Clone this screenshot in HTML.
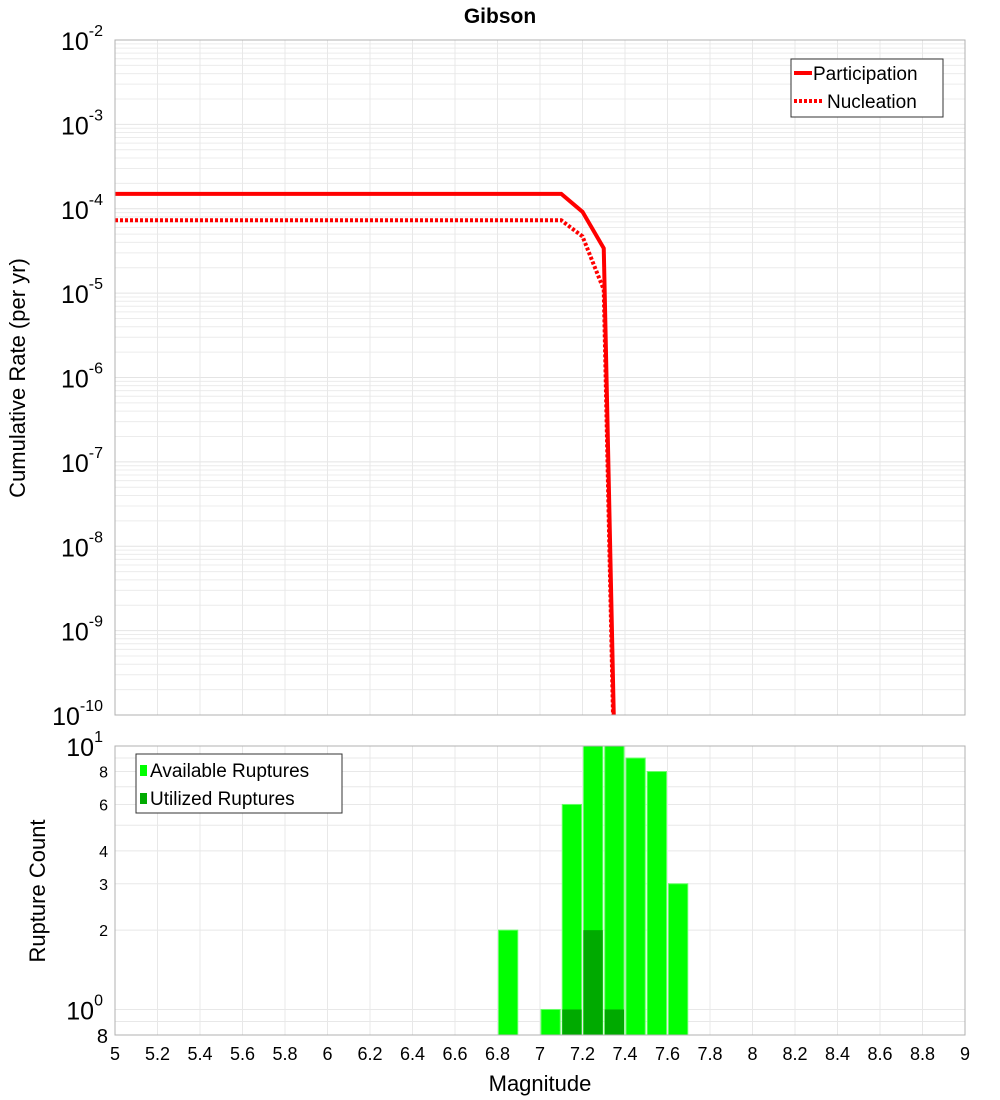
<!DOCTYPE html>
<html><head><meta charset="utf-8"><style>
body{margin:0;background:#fff;}
svg{font-family:"Liberation Sans","DejaVu Sans",sans-serif;display:block}
</style></head><body>
<svg id="c" width="1000" height="1100" xmlns="http://www.w3.org/2000/svg">
<text x="500" y="23" text-anchor="middle" font-size="21" font-weight="bold">Gibson</text>
<g id="top"></g>
<g id="bot"></g>
<text transform="translate(25,378) rotate(-90)" text-anchor="middle" font-size="22">Cumulative Rate (per yr)</text>
<text transform="translate(45,891) rotate(-90)" text-anchor="middle" font-size="22">Rupture Count</text>
<text x="540" y="1091" text-anchor="middle" font-size="22">Magnitude</text>
</svg>
<script>
const partMags=[5,7.1,7.2,7.3,7.4];
const partRates=[1.5e-4,1.5e-4,9.2e-5,3.4e-5,6e-17];
const nuclMags=[5,7.1,7.2,7.3,7.4];
const nuclRates=[7.3e-5,7.3e-5,4.7e-5,1.1e-5,3e-17];
const binStarts=[6.8,7.0,7.1,7.2,7.3,7.4,7.5,7.6];
const availCounts=[2,1,6,10,10,9,8,3];
const utilStarts=[7.1,7.2,7.3];
const utilCounts=[1,2,1];
const xTicks=[5,5.2,5.4,5.6,5.8,6,6.2,6.4,6.6,6.8,7,7.2,7.4,7.6,7.8,8,8.2,8.4,8.6,8.8,9];
const xTickLabels=["5","5.2","5.4","5.6","5.8","6","6.2","6.4","6.6","6.8","7","7.2","7.4","7.6","7.8","8","8.2","8.4","8.6","8.8","9"];
const topExps=[-2,-3,-4,-5,-6,-7,-8,-9,-10];
const botMinor=[2,3,4,6,8];

const NS="http://www.w3.org/2000/svg";
const L=115,R=965,TT=40,TB=715,BT=746,BB=1035;
const X=m=>L+(m-5)/4*(R-L);
const YT=v=>TT+(-2-Math.log10(v))/8*(TB-TT);
const lmin=Math.log10(0.8);
const YB=v=>BB-(Math.log10(v)-lmin)/(1-lmin)*(BB-BT);
function mk(p,t,a){const e=document.createElementNS(NS,t);for(const k in a)e.setAttribute(k,a[k]);p.appendChild(e);return e;}
const topG=document.getElementById('top'),botG=document.getElementById('bot');

for(let d=-10;d<-2;d++)for(let k=1;k<10;k++){const y=YT(k*Math.pow(10,d));
 const g=mk(topG,'line',{x1:L,x2:R,y1:y,y2:y,stroke:k==1?'#e4e4e4':'#ececec','stroke-width':1});
 
 }
xTicks.forEach(m=>{const g=mk(topG,'line',{x1:X(m),x2:X(m),y1:TT,y2:TB,stroke:'#e8e8e8'});
 
 
 const h=mk(botG,'line',{x1:X(m),x2:X(m),y1:BT,y2:BB,stroke:'#e8e8e8'});
 
 });
topExps.forEach(e=>{const y=YT(Math.pow(10,e));
 const t=mk(topG,'text',{x:L-12,y:y+10,'text-anchor':'end','font-size':25});
 
 
 t.innerHTML='10<tspan font-size="16" dy="-14">'+e+'</tspan>';});
const defs=mk(document.getElementById('c'),'defs',{});
const cp=mk(defs,'clipPath',{id:'clipT'});mk(cp,'rect',{x:L,y:TT,width:R-L,height:TB-TT});
function line(ms,vs,dash,name){let d='';ms.forEach((m,i)=>{d+=(i?'L':'M')+X(m)+','+YT(vs[i]);});
 const p=mk(topG,'path',{d:d,fill:'none',stroke:'#ff0000','stroke-width':4,'clip-path':'url(#clipT)'});
 if(dash)p.setAttribute('stroke-dasharray','3,2');
 
 }
line(partMags,partRates,false,'participation-line');
line(nuclMags,nuclRates,true,'nucleation-line');
let f=mk(topG,'rect',{x:L,y:TT,width:R-L,height:TB-TT,fill:'none',stroke:'#b0b0b0'});


const lg=mk(topG,'g',{});


mk(lg,'rect',{x:791,y:59,width:152,height:58,fill:'#fff',stroke:'#333'});
mk(lg,'line',{x1:794,x2:812,y1:73,y2:73,stroke:'#f00','stroke-width':4});
mk(lg,'line',{x1:794,x2:822,y1:101,y2:101,stroke:'#f00','stroke-width':4,'stroke-dasharray':'3,2'});
let t=mk(lg,'text',{x:813,y:80,'font-size':19});t.textContent='Participation';


t=mk(lg,'text',{x:827,y:108,'font-size':19});t.textContent='Nucleation';



[0.8,0.9,1,2,3,4,5,6,7,8,9].forEach(v=>{const y=YB(v);
 const g=mk(botG,'line',{x1:L,x2:R,y1:y,y2:y,stroke:'#e8e8e8'});
 
 });
const bw=(X(5.1)-X(5));
binStarts.forEach((m,i)=>{const y=YB(availCounts[i]);
 const b=mk(botG,'rect',{x:X(m)+1,y:y,width:bw-2,height:BB-y,fill:'#00ff00',stroke:'#66ff66','stroke-width':1});
 
 });
utilStarts.forEach((m,i)=>{const y=YB(utilCounts[i]);
 const b=mk(botG,'rect',{x:X(m)+1,y:y,width:bw-2,height:BB-y,fill:'#00aa00'});
 
 });
f=mk(botG,'rect',{x:L,y:BT,width:R-L,height:BB-BT,fill:'none',stroke:'#b0b0b0'});


[[10,'1'],[1,'0']].forEach(([v,e])=>{const y=YB(v);
 const tt=mk(botG,'text',{x:L-12,y:y+10,'text-anchor':'end','font-size':25});
 
 
 tt.innerHTML='10<tspan font-size="16" dy="-14">'+e+'</tspan>';});
botMinor.forEach(v=>{const tt=mk(botG,'text',{x:L-7,y:YB(v)+6,'text-anchor':'end','font-size':16});
 tt.textContent=v;
 
 });
t=mk(botG,'text',{x:L-7,y:BB+8,'text-anchor':'end','font-size':20});t.textContent='8';


xTicks.forEach((m,i)=>{const tt=mk(botG,'text',{x:X(m),y:1060,'text-anchor':'middle','font-size':18});
 tt.textContent=xTickLabels[i];
 
 });
const bl=mk(botG,'g',{});


mk(bl,'rect',{x:136,y:754,width:206,height:59,fill:'#fff',stroke:'#333'});
mk(bl,'rect',{x:140,y:765,width:7,height:11,fill:'#00ff00'});
mk(bl,'rect',{x:140,y:793,width:7,height:11,fill:'#00aa00'});
t=mk(bl,'text',{x:150,y:777,'font-size':19});t.textContent='Available Ruptures';


t=mk(bl,'text',{x:150,y:805,'font-size':19});t.textContent='Utilized Ruptures';


</script>
</body></html>
